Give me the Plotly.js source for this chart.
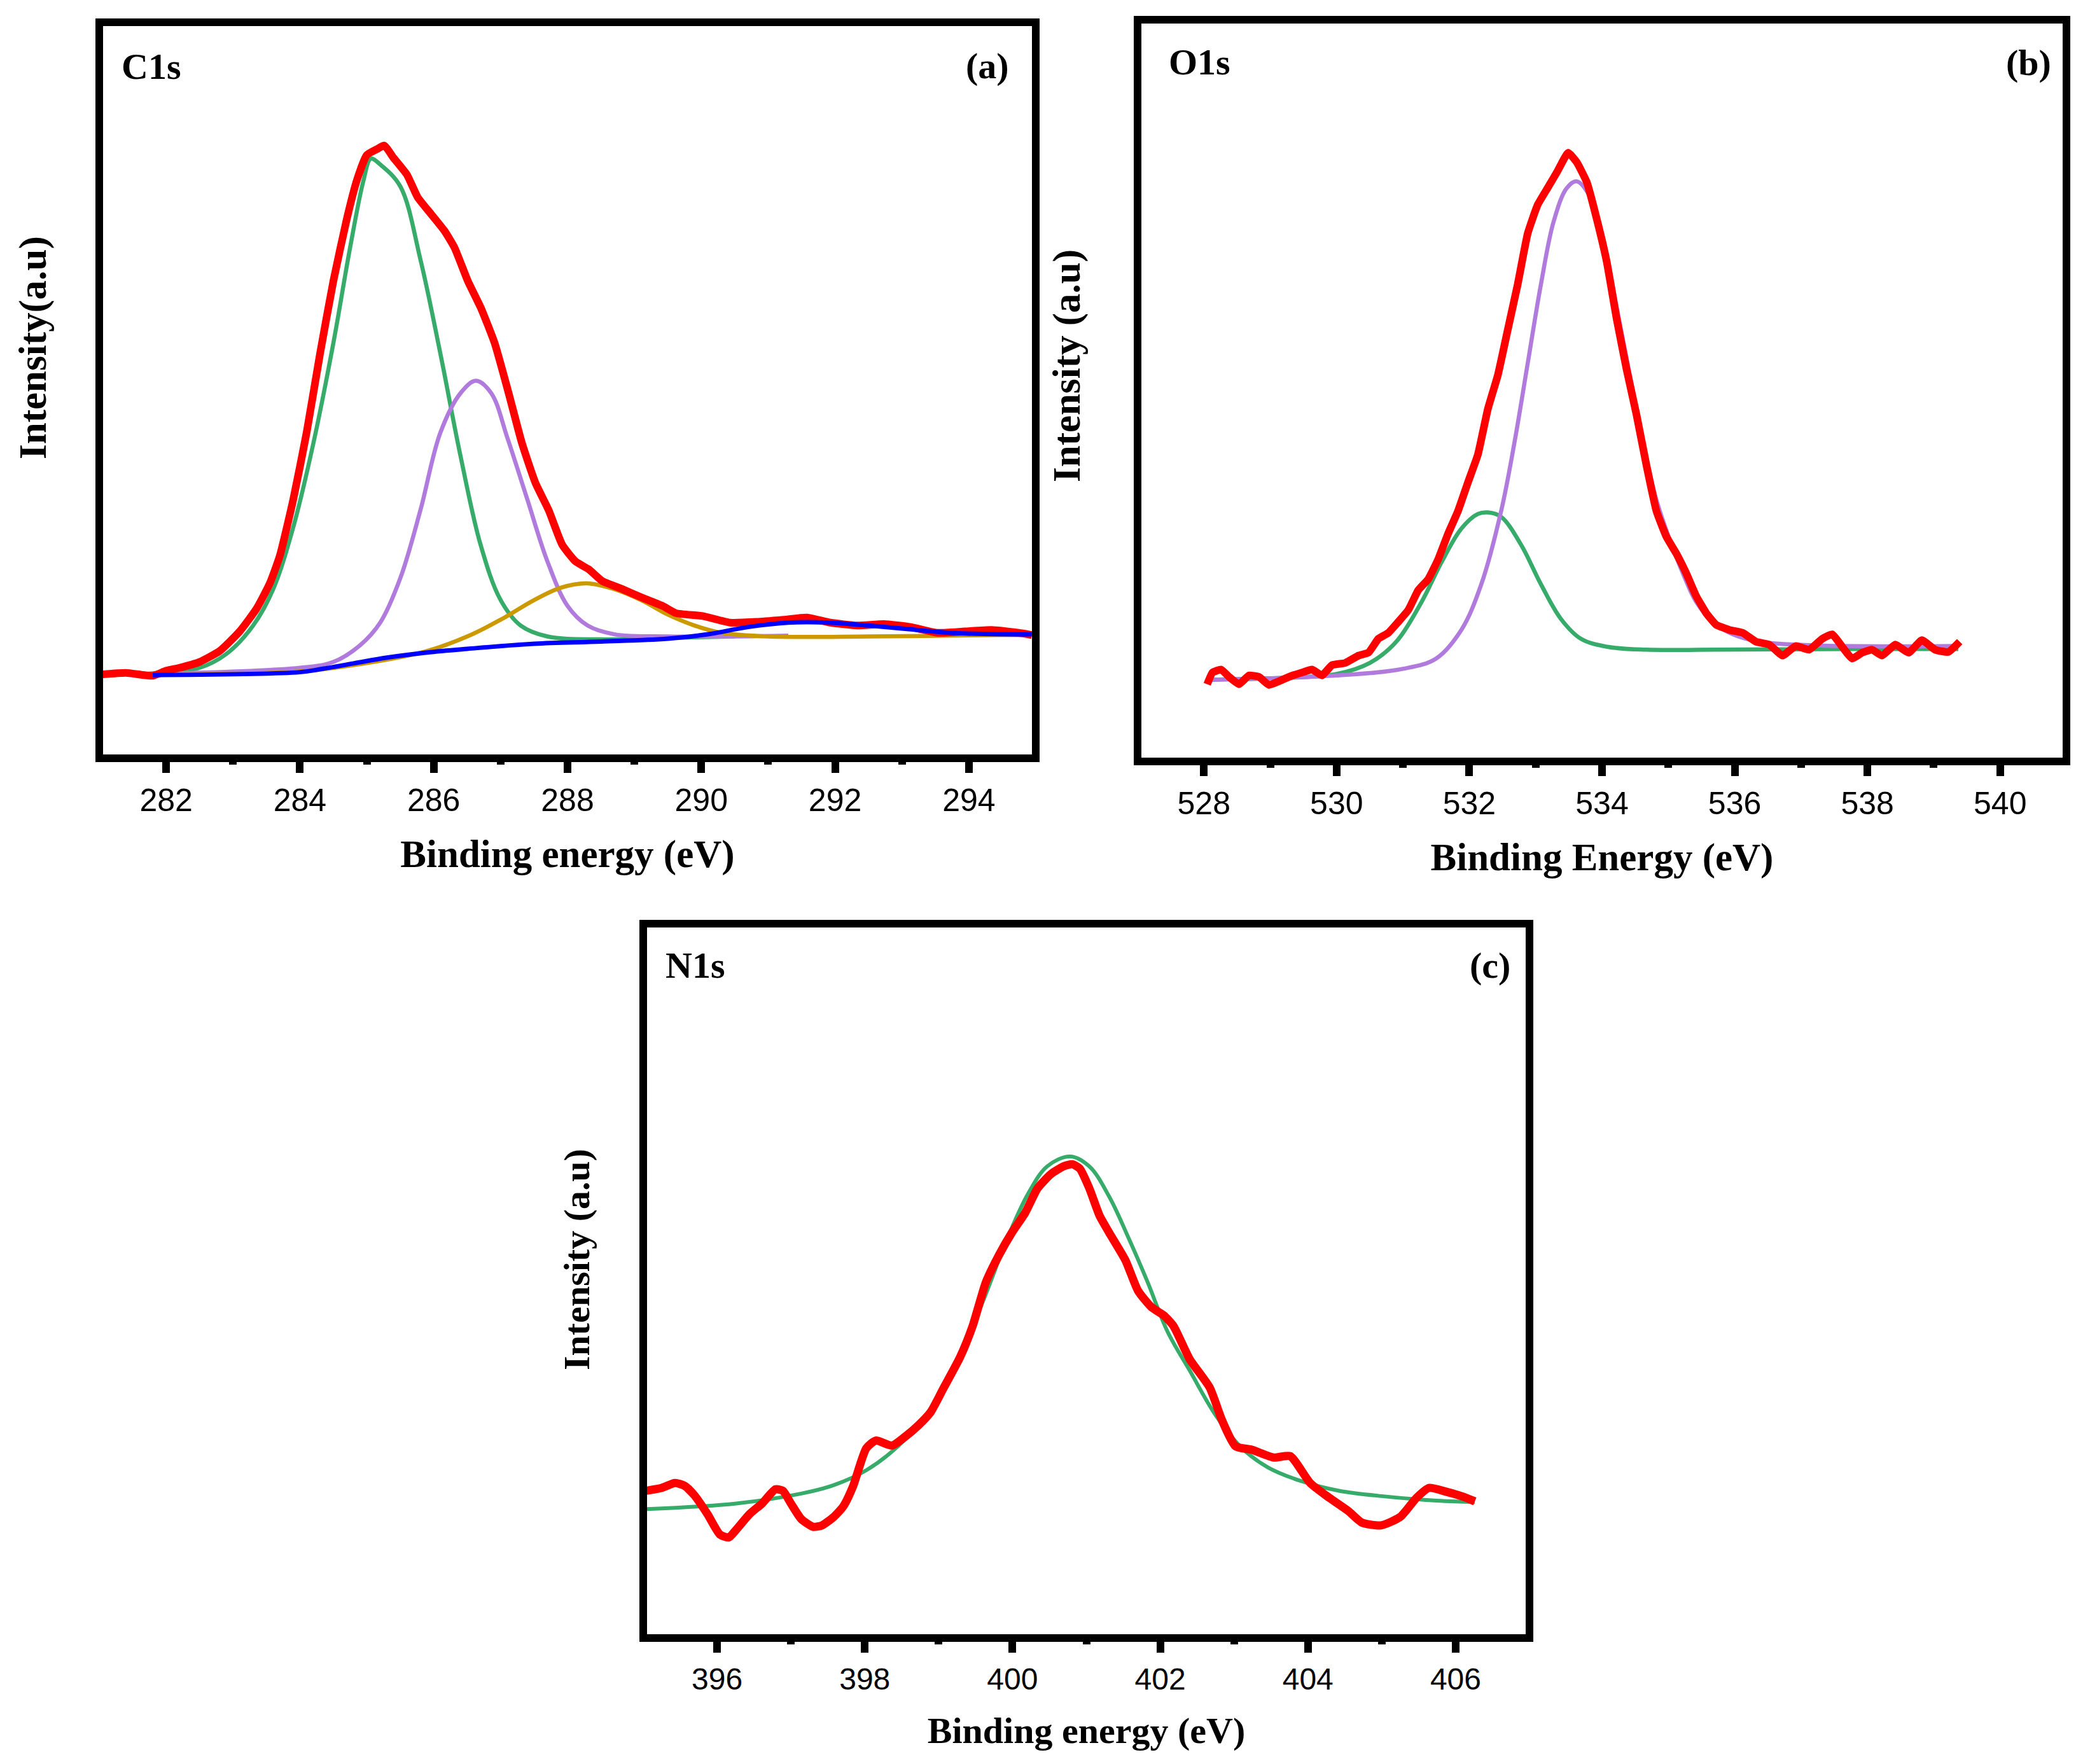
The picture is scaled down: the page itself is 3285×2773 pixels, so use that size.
<!DOCTYPE html>
<html>
<head>
<meta charset="utf-8">
<script src="https://cdn.plot.ly/plotly-3.0.1.min.js"></script>
<style>html,body{margin:0;padding:0;background:#fff;}#chart{width:3285px;height:2773px;}</style>
</head>
<body>
<div id="chart"></div>
<script>
// ---------- Panel (a) C1s ----------
const c1sRawE = [281.05,281.4,281.8,282.0,282.2,282.5,282.8,283.1,283.35,283.55,283.7,283.9,284.1,284.3,284.5,284.7,284.85,285.0,285.15,285.26,285.4,285.6,285.76,285.96,286.16,286.31,286.51,286.71,286.91,287.12,287.32,287.52,287.72,287.92,288.12,288.32,288.52,288.82,289.12,289.42,289.62,290.02,290.43,290.83,291.23,291.58,291.93,292.33,292.73,293.13,293.53,293.94,294.34,294.74,294.94];
const c1sRawI = [11.0,11.2,10.8,11.5,11.9,12.7,14.2,16.9,20.0,23.5,27.3,35.0,44.2,55.0,65.0,73.5,78.8,82.3,83.1,83.6,81.9,79.6,76.5,74.2,71.9,69.6,65.0,61.2,56.5,49.6,42.7,37.3,33.5,28.8,26.5,25.4,23.8,22.7,21.5,20.4,19.4,19.0,18.1,18.2,18.5,18.8,18.1,17.7,17.9,17.5,16.7,16.9,17.1,16.7,16.4];

const c1sPk1E = [281.6,282.0,282.5,282.9,283.3,283.6,283.9,284.2,284.5,284.75,284.95,285.06,285.2,285.5,285.8,286.1,286.4,286.7,287.0,287.3,287.7,288.5,289.5,290.5];
const c1sPk1I = [11.0,11.3,11.9,13.8,17.7,22.7,31.2,42.7,56.5,69.6,78.8,81.8,81.0,78.0,68.0,55.0,41.0,28.8,21.2,17.7,16.2,15.8,16.0,16.2];

const c1sPk2E = [281.6,284.0,284.5,284.9,285.2,285.5,285.8,286.1,286.4,286.63,286.86,287.1,287.4,287.7,288.0,288.3,288.7,289.5,290.5,291.3];
const c1sPk2I = [11.0,11.9,12.7,15.0,18.1,24.2,33.5,44.2,49.6,51.3,49.6,43.5,35.0,26.5,20.4,17.7,16.5,16.2,16.2,16.3];

const c1sPk3E = [281.6,284.0,285.1,285.9,286.5,287.0,287.5,287.9,288.29,288.7,289.1,289.5,289.9,290.3,291.0,292.5,294.5,294.94];
const c1sPk3I = [11.0,11.4,12.7,14.2,16.2,18.5,21.2,22.9,23.5,22.7,21.2,19.2,17.7,16.7,16.2,16.2,16.4,16.4];

const c1sBgE = [281.8,284.0,284.3,284.8,285.3,285.9,286.5,287.5,288.5,289.5,290.1,290.7,291.3,291.9,292.5,293.1,293.7,294.5,294.94];
const c1sBgI = [10.9,11.3,11.7,12.5,13.3,14.0,14.5,15.2,15.5,15.9,16.5,17.5,18.1,18.1,17.7,17.2,16.7,16.5,16.5];

// ---------- Panel (b) O1s ----------
const o1sRawE = [528.05,528.13,528.26,528.38,528.53,528.68,528.83,528.98,529.13,529.28,529.48,529.63,529.78,529.93,530.13,530.33,530.48,530.63,530.78,530.93,531.08,531.23,531.38,531.53,531.68,531.83,531.98,532.13,532.28,532.43,532.58,532.73,532.88,533.03,533.18,533.33,533.49,533.62,533.77,533.92,534.07,534.22,534.37,534.52,534.67,534.82,534.97,535.12,535.27,535.42,535.57,535.72,535.92,536.12,536.32,536.52,536.72,536.92,537.12,537.32,537.47,537.62,537.77,537.92,538.07,538.22,538.42,538.62,538.82,539.02,539.22,539.39];
const o1sRawI = [10.0,11.6,12.0,11.0,10.0,11.2,11.0,9.9,10.4,11.0,11.6,12.0,11.2,12.6,12.9,13.9,14.3,16.2,17.0,18.5,20.1,22.8,24.3,27.0,30.5,33.6,37.5,41.3,47.5,52.1,58.3,64.5,71.4,75.3,77.6,79.9,82.4,81.1,78.4,73.4,67.6,59.8,52.9,46.7,39.8,33.6,30.1,27.8,25.1,22.0,19.7,18.1,17.4,17.0,15.8,15.4,13.9,15.2,14.7,16.2,16.8,15.1,13.5,14.3,14.7,13.9,15.4,14.3,16.0,14.7,14.4,15.8];

const o1sPk1E = [528.05,529.0,530.0,530.5,530.9,531.28,531.58,531.88,532.13,532.28,532.48,532.78,533.08,533.38,533.68,534.08,534.67,535.67,537.67,539.37];
const o1sPk1I = [10.6,10.8,11.4,12.9,15.8,21.2,26.6,31.2,33.2,33.4,32.8,29.0,23.6,18.9,16.2,15.1,14.7,14.7,14.8,14.8];

const o1sPk2E = [528.05,530.0,531.0,531.5,531.88,532.18,532.48,532.68,532.88,533.08,533.27,533.47,533.62,533.82,534.02,534.22,534.42,534.62,534.82,535.02,535.22,535.42,535.67,535.97,536.37,537.17,539.37];
const o1sPk2I = [10.6,11.2,12.1,13.5,17.4,23.6,33.6,42.9,53.7,64.5,73.0,77.6,78.5,76.4,70.6,61.4,52.1,42.9,35.1,29.7,25.1,21.2,18.5,16.8,15.8,15.3,15.2];

// ---------- Panel (c) N1s ----------
const n1sRawE = [395.04,395.25,395.43,395.56,395.69,395.87,396.04,396.16,396.26,396.44,396.61,396.79,396.89,397.0,397.14,397.3,397.42,397.58,397.71,397.84,398.02,398.15,398.37,398.54,398.72,398.89,399.07,399.29,399.46,399.64,399.82,399.99,400.17,400.34,400.52,400.69,400.81,400.91,401.04,401.18,401.31,401.53,401.7,401.88,402.05,402.18,402.4,402.67,402.84,403.02,403.24,403.54,403.76,404.03,404.29,404.55,404.73,404.99,405.25,405.47,405.64,405.86,406.09,406.26];
const n1sRawI = [20.3,20.7,21.4,21.0,19.7,17.0,14.1,13.7,14.8,17.0,18.5,20.5,20.3,18.5,16.3,15.2,15.4,16.6,18.1,20.9,26.3,27.4,26.7,27.9,29.5,31.4,34.9,39.2,43.6,49.8,53.7,56.8,59.6,63.1,65.1,66.2,66.5,65.9,63.1,59.2,56.8,52.9,48.6,46.3,45.1,43.6,38.9,34.9,30.2,26.6,26.1,25.0,25.2,21.4,19.3,17.4,15.8,15.4,16.6,19.3,20.7,20.2,19.5,18.8];

const n1sFitE = [395.04,396.26,397.14,397.58,398.02,398.46,398.89,399.24,399.6,399.95,400.21,400.47,400.78,401.04,401.31,401.57,401.83,402.1,402.4,402.75,403.11,403.46,403.9,404.42,405.04,405.74,406.26];
const n1sFitI = [17.7,18.5,19.9,21.1,23.2,26.7,31.8,38.1,47.1,56.5,62.3,66.2,67.6,66.2,61.9,56.1,49.8,42.8,37.3,31.0,26.3,23.6,21.7,20.3,19.5,18.9,18.7];

// ---------- text ----------
const panelLabels = ['C1s', '(a)', 'O1s', '(b)', 'N1s', '(c)'];
const xTitles = ['Binding energy (eV)', 'Binding Energy (eV)', 'Binding energy (eV)'];
const yTitles = ['Intensity(a.u)', 'Intensity (a.u)', 'Intensity (a.u)'];

// ---------- colours / styles ----------
const RED = '#ff0000', GREEN = '#36ab6a', PURPLE = '#b07bdc', GOLD = '#cc9900', BLUE = '#0000ff';
const W = 3285, H = 2773;
const fx = p => p / W;
const fy = p => 1 - p / H;
const SERIF = 'Liberation Serif, Times New Roman, serif';
const SANS = 'Liberation Sans, Arial, sans-serif';

function ln(x, y, color, width, xa, ya, smooth) {
  return {x: x, y: y, type: 'scatter', mode: 'lines', xaxis: xa, yaxis: ya,
          line: {color: color, width: width, shape: 'spline', smoothing: smooth},
          hoverinfo: 'skip', showlegend: false};
}

const data = [
  ln(c1sPk1E, c1sPk1I, GREEN, 6.5, 'x', 'y', 1.0),
  ln(c1sPk2E, c1sPk2I, PURPLE, 6.5, 'x', 'y', 1.0),
  ln(c1sPk3E, c1sPk3I, GOLD, 6.5, 'x', 'y', 1.0),
  ln(c1sRawE, c1sRawI, RED, 12, 'x', 'y', 0.5),
  ln(c1sBgE, c1sBgI, BLUE, 7, 'x', 'y', 1.0),

  ln(o1sPk1E, o1sPk1I, GREEN, 6.5, 'x2', 'y2', 1.0),
  ln(o1sPk2E, o1sPk2I, PURPLE, 6.5, 'x2', 'y2', 1.0),
  ln(o1sRawE, o1sRawI, RED, 12, 'x2', 'y2', 0.4),

  ln(n1sFitE, n1sFitI, GREEN, 6, 'x3', 'y3', 1.0),
  ln(n1sRawE, n1sRawI, RED, 13, 'x3', 'y3', 0.6)
];

function xAxis(domain, range, anchor, title, tsize, fsize, standoff) {
  return {
    domain: domain, range: range, anchor: anchor,
    showline: true, linewidth: 12, linecolor: '#000', mirror: true,
    showgrid: false, zeroline: false,
    ticks: 'outside', ticklen: 17, tickwidth: 12, tickcolor: '#000',
    dtick: 2, tick0: 0,
    minor: {dtick: 1, ticks: 'outside', ticklen: 4, tickwidth: 12, tickcolor: '#000', showgrid: false},
    tickfont: {family: SANS, size: fsize, color: '#000'},
    title: {text: '<b>' + title + '</b>', font: {family: SERIF, size: tsize, color: '#000'}, standoff: standoff},
    automargin: false, fixedrange: true
  };
}
function yAxis(domain, anchor) {
  return {
    domain: domain, range: [0, 100], anchor: anchor,
    showline: true, linewidth: 12, linecolor: '#000', mirror: true,
    showgrid: false, zeroline: false, ticks: '', showticklabels: false,
    automargin: false, fixedrange: true
  };
}

function label(text, xpx, ypx, anchor, size) {
  return {text: '<b>' + text + '</b>', xref: 'paper', yref: 'paper', x: fx(xpx), y: fy(ypx),
          xanchor: anchor, yanchor: 'middle', showarrow: false,
          font: {family: SERIF, size: size, color: '#000'}};
}
function yTitle(text, xpx, ypx, size) {
  return {text: '<b>' + text + '</b>', xref: 'paper', yref: 'paper', x: fx(xpx), y: fy(ypx),
          xanchor: 'center', yanchor: 'middle', textangle: -90, showarrow: false,
          font: {family: SERIF, size: size, color: '#000'}};
}

const layout = {
  width: W, height: H,
  margin: {l: 0, r: 0, t: 0, b: 0, pad: 0},
  paper_bgcolor: '#fff', plot_bgcolor: '#fff',
  showlegend: false,
  xaxis:  xAxis([fx(162), fx(1622)], [281.057, 294.943], 'y',  xTitles[0], 61, 50, 40),
  yaxis:  yAxis([fy(1186), fy(41)], 'x'),
  xaxis2: xAxis([fx(1794), fx(3242)], [527.058, 540.942], 'y2', xTitles[1], 61, 50, 40),
  yaxis2: yAxis([fy(1191), fy(37)], 'x2'),
  xaxis3: xAxis([fx(1017), fx(2398)], [395.052, 406.948], 'y3', xTitles[2], 58, 48, 40),
  yaxis3: yAxis([fy(2569), fy(1458)], 'x3'),
  annotations: [
    label(panelLabels[0], 189, 105, 'left', 58),
    label(panelLabels[1], 1588, 104, 'right', 58),
    label(panelLabels[2], 1835, 98, 'left', 58),
    label(panelLabels[3], 3226, 99, 'right', 58),
    label(panelLabels[4], 1044, 1517, 'left', 58),
    label(panelLabels[5], 2376, 1517, 'right', 58),
    yTitle(yTitles[0], 52, 547, 61),
    yTitle(yTitles[1], 1677, 575, 61),
    yTitle(yTitles[2], 906, 1980, 58)
  ]
};

Plotly.newPlot('chart', data, layout, {displayModeBar: false, staticPlot: true});
</script>
</body>
</html>
